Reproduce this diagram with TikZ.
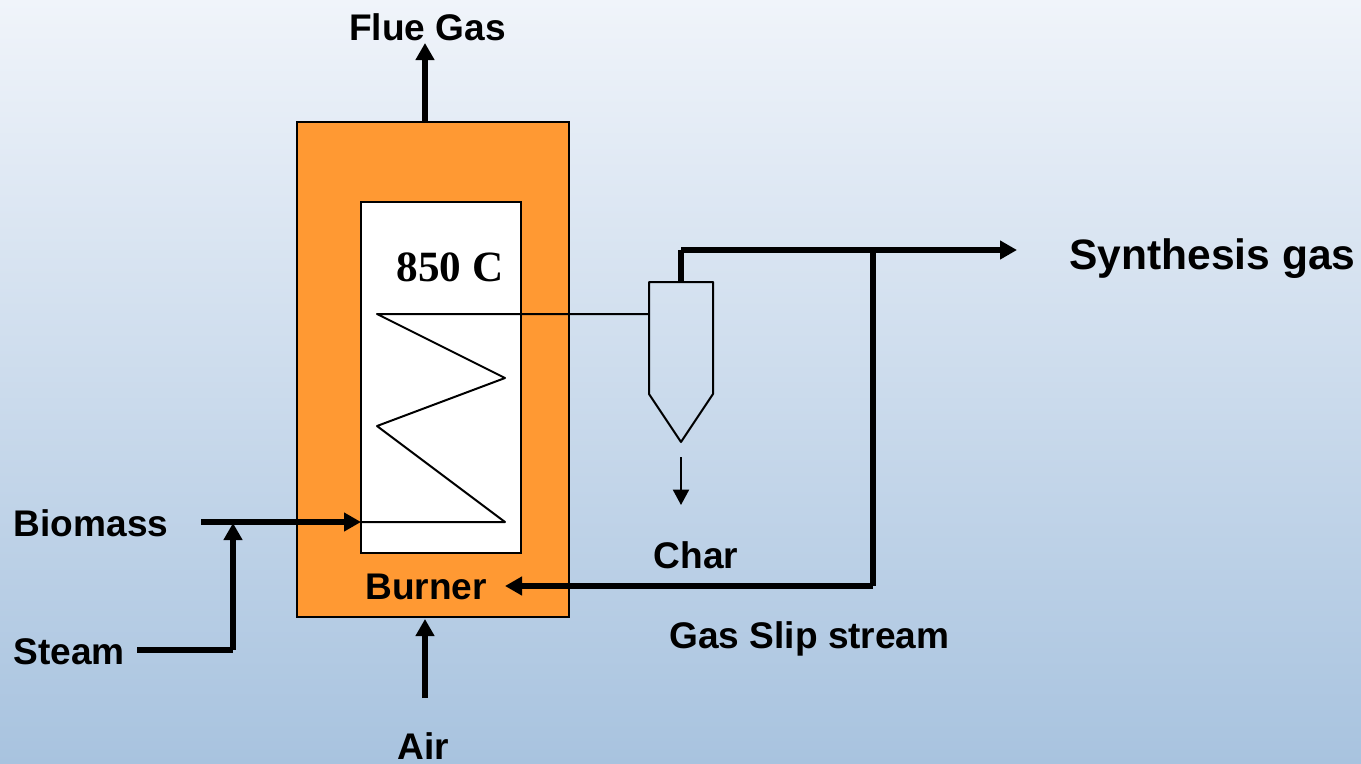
\documentclass[tikz,border=0pt]{standalone}
\usepackage{fontspec}
\usepackage{xcolor}
\setmainfont{Liberation Sans}
\newfontfamily\serifface{Liberation Serif}
\usetikzlibrary{arrows.meta,positioning}
\definecolor{burnerorange}{HTML}{FF9933}
\definecolor{skytop}{HTML}{F0F4FA}
\definecolor{skybottom}{HTML}{A8C3DF}
\tikzset{
  vessel/.style={draw=black,line width=1.5pt,inner sep=0pt,outer sep=0pt},
  stream/.style={line width=4.5pt,black},
  feed/.style={stream,-{Triangle[length=12.75pt,width=13.5pt]}},
  fineline/.style={line width=1.5pt,black},
  tag/.style={inner sep=0pt,font=\bfseries\fontsize{27.8pt}{30pt}\selectfont},
}

\begin{document}
\begin{tikzpicture}[x=0.75pt,y=-0.75pt]
    \shade[top color=skytop,bottom color=skybottom] (0,0) rectangle (1361,764);
    \useasboundingbox (0,0) rectangle (1361,764);

    % furnace and cyclone bodies
    \node[vessel,fill=burnerorange,minimum width=204pt,minimum height=371.6pt] (furnace) at (433,369.75) {};
    \node[vessel,fill=white,minimum width=120pt,minimum height=263.6pt] (reactor) at (441,377.5) {};
    \node[inner sep=0pt,outer sep=0pt,minimum width=48pt,minimum height=84pt] (cyclone) at (681,338) {};
    \coordinate (tip) at (681,442);
    \draw[fineline,line join=round] (cyclone.south west) -- (cyclone.north west) -- (cyclone.north east)
      -- (cyclone.south east) -- (tip) -- cycle;

    % coil inside the reactor
    \coordinate (coilin) at (361,522);
    \coordinate (coilA) at (505,522);
    \coordinate (coilB) at (377,426);
    \coordinate (coilC) at (505,378);
    \coordinate (coilD) at (377,314);
    \draw[fineline,line join=round] (coilin) -- (coilA) -- (coilB) -- (coilC) -- (coilD) -- (coilD -| cyclone.west);

    % labels
    \node[tag] (flue) at (427.5,27) {Flue Gas};
    \node[inner sep=0pt,font=\serifface\bfseries\fontsize{32.4pt}{34pt}\selectfont] (temp) at (450,267.5) {850 C};
    \node[tag,font=\bfseries\fontsize{31.9pt}{34pt}\selectfont] (syngas) at (1212.5,258.5) {Synthesis gas};
    \node[tag] (biomass) at (91,523) {Biomass};
    \node[tag] (steam) at (69,652) {Steam};
    \node[tag] (burner) at (426,587) {Burner};
    \node[tag] (char) at (696,555) {Char};
    \node[tag] (slip) at (809.5,639) {Gas Slip stream};
    \node[tag] (air) at (423,746) {Air};

    % streams
    \coordinate (flueout) at (425,43);
    \draw[feed] (flueout |- furnace.north) -- (flueout);
    \coordinate (gasup) at (681,250);
    \coordinate (gasend) at (1017,250);
    \coordinate (tee) at (873,250);
    \coordinate (teelow) at (873,586);
    \coordinate (burnerin) at (505,586);
    \draw[stream] (cyclone.north) -- (gasup);
    \draw[feed] (gasup) -- (gasend);
    \draw[stream] (tee) -- (teelow);
    \draw[feed] (teelow) -- (burnerin);
    \coordinate (charfrom) at (681,457);
    \coordinate (charto) at (681,505);
    \draw[fineline,-{Triangle[length=11.5pt,width=12pt]}] (charfrom) -- (charto);
    \coordinate (biofrom) at (201,522);
    \draw[feed] (biofrom) -- (coilin);
    \coordinate (steamfrom) at (137,650);
    \coordinate (steamcorner) at (233,650);
    \coordinate (steamto) at (233,523);
    \draw[stream] (steamfrom) -- (steamcorner);
    \draw[feed] (steamcorner) -- (steamto);
    \coordinate (airfrom) at (425,698);
    \coordinate (airto) at (425,619);
    \draw[feed] (airfrom) -- (airto);
  \end{tikzpicture}
\end{document}
